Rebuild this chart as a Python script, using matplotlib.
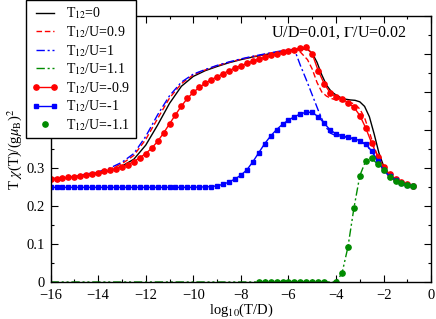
import numpy as np
import matplotlib
matplotlib.use('Agg')
import matplotlib.pyplot as plt
from matplotlib.ticker import MultipleLocator, FuncFormatter
from matplotlib.legend_handler import HandlerLine2D

plt.rcParams['font.family'] = ['Liberation Serif', 'DejaVu Serif']
plt.rcParams['mathtext.fontset'] = 'stix'

# ── data (x = log10(T/D), y = T chi / (g mu_B)^2) ─────────────────────────────
# T12 = 0 (solid black)
x_t0 = [-16, -15, -14, -13.5, -13, -12.5, -12, -11.5, -11, -10.5, -10, -9.5,
        -9, -8.5, -8, -7.5, -7, -6.5, -6, -5.5, -5.2, -5, -4.8, -4.6, -4.4,
        -4.2, -4, -3.8, -3.6, -3.4, -3.2, -3, -2.8, -2.6, -2.4, -2.2, -2,
        -1.8, -1.6, -1.4, -1.2, -1, -0.75]
y_t0 = [0.272, 0.276, 0.285, 0.293, 0.305, 0.323, 0.36, 0.413, 0.47, 0.515,
        0.541, 0.556, 0.567, 0.577, 0.585, 0.592, 0.598, 0.604, 0.609, 0.614,
        0.612, 0.602, 0.578, 0.545, 0.518, 0.501, 0.492, 0.485, 0.481, 0.479,
        0.478, 0.474, 0.462, 0.435, 0.39, 0.34, 0.305, 0.285, 0.272, 0.265,
        0.26, 0.256, 0.253]

# T12/U = 0.9 (red dashed)
x_p09 = [-16, -15, -14, -13.5, -13, -12.5, -12, -11.5, -11, -10.5, -10, -9.5,
         -9, -8.5, -8, -7.5, -7, -6.5, -6, -5.7, -5.5, -5.2, -5, -4.8, -4.6,
         -4.4, -4.2, -4, -3.8, -3.6, -3.4, -3.2, -3, -2.8, -2.6, -2.4, -2.2,
         -2, -1.75, -1.5, -1.25, -1, -0.75]
y_p09 = [0.27, 0.277, 0.288, 0.297, 0.311, 0.333, 0.375, 0.43, 0.484, 0.522,
         0.545, 0.558, 0.569, 0.578, 0.586, 0.593, 0.599, 0.605, 0.61, 0.613,
         0.605, 0.585, 0.56, 0.525, 0.5, 0.489, 0.483, 0.479, 0.476, 0.474,
         0.472, 0.468, 0.455, 0.432, 0.395, 0.355, 0.325, 0.3, 0.282, 0.27,
         0.262, 0.257, 0.253]

# T12/U = 1 (blue dash-dot)
x_p10 = [-16, -15, -14, -13.5, -13, -12.5, -12, -11.5, -11, -10.5, -10, -9.5,
         -9, -8.5, -8, -7.5, -7, -6.5, -6, -5.75, -5.5, -5.25, -5, -4.75,
         -4.5, -4.25, -4, -3.75, -3.5, -3.25, -3, -2.75, -2.5, -2.25, -2,
         -1.75, -1.5, -1.25, -1, -0.75]
y_p10 = [0.27, 0.278, 0.29, 0.3, 0.315, 0.338, 0.383, 0.44, 0.49, 0.526,
         0.547, 0.559, 0.57, 0.579, 0.587, 0.594, 0.6, 0.606, 0.611, 0.612,
         0.57, 0.532, 0.492, 0.452, 0.415, 0.392, 0.385, 0.383, 0.38, 0.376,
         0.371, 0.361, 0.344, 0.318, 0.295, 0.278, 0.268, 0.261, 0.256, 0.253]

# T12/U = 1.1 (green dash-dot-dot)
x_p11 = [-16, -4, -3.75, -3.5, -3.25, -3, -2.75, -2.5, -2.25, -2, -1.75,
         -1.5, -1.25, -1, -0.75]
y_p11 = [0, 0, 0.023, 0.092, 0.194, 0.28, 0.319, 0.325, 0.31, 0.295, 0.277,
         0.266, 0.26, 0.255, 0.253]

# T12/U = -0.9 (red circles)
x_m09 = [-16, -15.75, -15.5, -15.25, -15, -14.75, -14.5, -14.25, -14, -13.75,
         -13.5, -13.25, -13, -12.75, -12.5, -12.25, -12, -11.75, -11.5,
         -11.25, -11, -10.75, -10.5, -10.25, -10, -9.75, -9.5, -9.25, -9,
         -8.75, -8.5, -8.25, -8, -7.75, -7.5, -7.25, -7, -6.75, -6.5, -6.25,
         -6, -5.75, -5.5, -5.25, -5, -4.75, -4.5, -4.25, -4, -3.75, -3.5,
         -3.25, -3, -2.75, -2.5, -2.25, -2, -1.75, -1.5, -1.25, -1, -0.75]
y_m09 = [0.271, 0.272, 0.273, 0.275, 0.277, 0.279, 0.282, 0.285, 0.288,
         0.291, 0.294, 0.298, 0.303, 0.309, 0.317, 0.327, 0.338, 0.352, 0.37,
         0.392, 0.416, 0.44, 0.463, 0.483, 0.499, 0.512, 0.523, 0.532, 0.54,
         0.548, 0.556, 0.563, 0.569, 0.575, 0.581, 0.586, 0.591, 0.596, 0.6,
         0.604, 0.607, 0.611, 0.615, 0.618, 0.6, 0.556, 0.522, 0.498, 0.487,
         0.482, 0.472, 0.46, 0.438, 0.405, 0.365, 0.33, 0.303, 0.283, 0.27,
         0.262, 0.257, 0.253]

# T12/U = -1 (blue squares)
x_m10 = [-16, -15.75, -15.5, -15.25, -15, -14.75, -14.5, -14.25, -14, -13.75,
         -13.5, -13.25, -13, -12.75, -12.5, -12.25, -12, -11.75, -11.5,
         -11.25, -11, -10.75, -10.5, -10.25, -10, -9.75, -9.5, -9.25, -9,
         -8.75, -8.5, -8.25, -8, -7.75, -7.5, -7.25, -7, -6.75, -6.5, -6.25,
         -6, -5.75, -5.5, -5.25, -5, -4.75, -4.5, -4.25, -4, -3.75, -3.5,
         -3.25, -3, -2.75, -2.5, -2.25, -2, -1.75, -1.5, -1.25, -1, -0.75]
y_m10 = [0.249, 0.249, 0.249, 0.249, 0.249, 0.249, 0.249, 0.249, 0.249,
         0.249, 0.249, 0.249, 0.249, 0.249, 0.249, 0.249, 0.249, 0.249, 0.249,
         0.249, 0.249, 0.249, 0.249, 0.249, 0.249, 0.25, 0.25, 0.251, 0.253,
         0.257, 0.263, 0.271, 0.281, 0.295, 0.316, 0.34, 0.364, 0.384, 0.401,
         0.415, 0.426, 0.435, 0.442, 0.447, 0.446, 0.435, 0.418, 0.4, 0.39,
         0.385, 0.381, 0.377, 0.372, 0.362, 0.345, 0.318, 0.295, 0.278, 0.268,
         0.261, 0.256, 0.253]

# T12/U = -1.1 (green circles, no line)
x_m11 = [-7.25, -7, -6.75, -6.5, -6.25, -6, -5.75, -5.5, -5.25, -5, -4.75,
         -4.5, -4, -3.75, -3.5, -3.25, -3, -2.75, -2.5, -2.25, -2, -1.75,
         -1.5, -1.25, -1, -0.75]
y_m11 = [0, 0, 0, 0, 0, 0, 0, 0, 0, 0, 0, 0, 0, 0.023, 0.092, 0.194, 0.28,
         0.319, 0.325, 0.31, 0.295, 0.277, 0.266, 0.26, 0.255, 0.253]

RED = '#ff0000'
BLUE = '#0000ff'
GREEN = '#008b00'

fig = plt.figure(figsize=(4.36, 3.19), dpi=100)
ax = fig.add_axes([0.116, 0.116, 0.873, 0.834])

ax.plot(x_t0, y_t0, color='black', lw=1.0, label=r'T$_{12}$=0')
ax.plot(x_p09, y_p09, color=RED, lw=1.0, dashes=[4, 2],
        label=r'T$_{12}$/U=0.9')
ax.plot(x_p10, y_p10, color=BLUE, lw=1.0, dashes=[6, 2, 1.5, 2],
        label=r'T$_{12}$/U=1')
ax.plot(x_p11, y_p11, color=GREEN, lw=1.0, dashes=[6, 2, 1.5, 2, 1.5, 2],
        label=r'T$_{12}$/U=1.1')
ax.plot(x_m09, y_m09, color=RED, lw=1.0, marker='o', ms=3.8,
        label=r'T$_{12}$/U=-0.9')
ax.plot(x_m10, y_m10, color=BLUE, lw=1.0, marker='s', ms=3.0,
        label=r'T$_{12}$/U=-1')
dots, = ax.plot(x_m11, y_m11, color=GREEN, lw=0, marker='o', ms=3.8,
                label=r'T$_{12}$/U=-1.1')

ax.set_xlim(-16, 0)
ax.set_ylim(0, 0.7)
ax.xaxis.set_major_locator(MultipleLocator(2))
ax.xaxis.set_minor_locator(MultipleLocator(1))
ax.yaxis.set_major_locator(MultipleLocator(0.1))
ax.yaxis.set_minor_locator(MultipleLocator(0.05))
ax.yaxis.set_major_formatter(FuncFormatter(lambda v, p: '0' if abs(v) < 1e-9 else f'{v:.1f}'))
ax.tick_params(which='both', direction='in', top=True, right=True,
               labelsize=10.5)
ax.tick_params(axis='x', pad=5)
ax.tick_params(axis='y', pad=4)
ax.tick_params(which='major', length=5, width=0.8)
ax.tick_params(which='minor', length=2.5, width=0.8)
for s in ax.spines.values():
    s.set_linewidth(1.0)

ax.set_xlabel(r'log$_{10}$(T/D)', fontsize=10.5, labelpad=0)
ax.set_ylabel(r'T $\chi$(T)/(g$\mu_{\rm B}$)$^2$', fontsize=10.5, labelpad=2)

ax.text(-1.0, 0.655, r'U/D=0.01, $\Gamma$/U=0.02', ha='right', va='center',
        fontsize=11.5)

leg = fig.legend(loc='upper left', bbox_to_anchor=(26 / 436, 1.0),
                 fontsize=10, frameon=True, fancybox=False, framealpha=1,
                 edgecolor='black', borderaxespad=0, handlelength=1.9,
                 handletextpad=0.6, labelspacing=0.2, borderpad=0.4,
                 numpoints=2, handler_map={dots: HandlerLine2D(numpoints=1)})
leg.get_frame().set_linewidth(1.0)

fig.savefig('out.png', dpi=100)
